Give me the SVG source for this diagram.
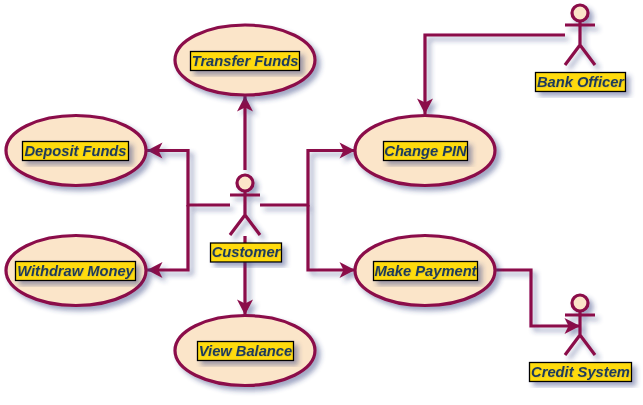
<svg xmlns="http://www.w3.org/2000/svg" width="643" height="405" viewBox="0 0 643 405">
<defs>
<filter id="sh" x="-20%" y="-20%" width="150%" height="150%"><feDropShadow dx="4" dy="4" stdDeviation="2.500" flood-color="#2c3e7a" flood-opacity="0.45"/></filter>
<filter id="ts" x="-5%" y="-20%" width="110%" height="140%"><feDropShadow dx="0.500" dy="0.500" stdDeviation="0.400" flood-color="#5a6a8a" flood-opacity="0.3"/></filter>
<marker id="arr" viewBox="0 0 18 18" refX="16.500" refY="9" markerWidth="18" markerHeight="18" markerUnits="userSpaceOnUse" orient="auto"><path d="M1,1 L16.500,9 L1,17 L5,9 Z" fill="#8b0a4a"/></marker>
</defs>
<style>
.e{fill:#fbe5c9;stroke:#8b0a4a;stroke-width:3.200}
.l{fill:#ffdb0f;stroke:#000;stroke-width:1.300}
.t{font-family:"Liberation Sans",Arial,sans-serif;font-size:14.700px;font-weight:bold;font-style:italic;fill:#1e3a5a;text-anchor:middle}
.c{fill:none;stroke:#8b0a4a;stroke-width:3.200}
.a{fill:none;stroke:#8b0a4a;stroke-width:3.200}
.h{fill:#fbe5c9;stroke:#8b0a4a;stroke-width:3.200}
</style>
<rect width="643" height="405" fill="#fff"/>
<g id="connectors" filter="url(#sh)">
<path class="c" d="M245,170 V96" marker-end="url(#arr)"/>
<path class="c" d="M230,205 H188 V150.500 H147" marker-end="url(#arr)"/>
<path class="c" d="M188,205 V270 H147" marker-end="url(#arr)"/>
<path class="c" d="M245,236 V315" marker-end="url(#arr)"/>
<path class="c" d="M260,205 H308 V150.500 H355" marker-end="url(#arr)"/>
<path class="c" d="M308,205 V270 H355" marker-end="url(#arr)"/>
<path class="c" d="M565,35 H425 V114" marker-end="url(#arr)"/>
<path class="c" d="M496,270 H531 V326 H580" marker-end="url(#arr)"/>
</g>
<g id="transfer-funds"><ellipse class="e" cx="245" cy="60" rx="70" ry="35" filter="url(#sh)"/><rect class="l" x="190.500" y="51.500" width="109" height="19" filter="url(#sh)"/><text class="t" x="245" y="66" filter="url(#ts)">Transfer Funds</text></g>
<g id="deposit-funds"><ellipse class="e" cx="76" cy="150.500" rx="70" ry="35" filter="url(#sh)"/><rect class="l" x="22.500" y="141.500" width="106" height="19" filter="url(#sh)"/><text class="t" x="75.500" y="156" filter="url(#ts)">Deposit Funds</text></g>
<g id="withdraw-money"><ellipse class="e" cx="76" cy="270.500" rx="70" ry="35" filter="url(#sh)"/><rect class="l" x="15.500" y="261.500" width="120" height="19" filter="url(#sh)"/><text class="t" x="75.500" y="276" filter="url(#ts)">Withdraw Money</text></g>
<g id="view-balance"><ellipse class="e" cx="245" cy="350.500" rx="70" ry="35" filter="url(#sh)"/><rect class="l" x="197.500" y="341.500" width="96" height="19" filter="url(#sh)"/><text class="t" x="245.500" y="356" filter="url(#ts)">View Balance</text></g>
<g id="change-pin"><ellipse class="e" cx="425" cy="150.500" rx="70" ry="35" filter="url(#sh)"/><rect class="l" x="383.500" y="141.500" width="84" height="19" filter="url(#sh)"/><text class="t" x="425.500" y="156" filter="url(#ts)">Change PIN</text></g>
<g id="make-payment"><ellipse class="e" cx="425" cy="270.500" rx="70" ry="35" filter="url(#sh)"/><rect class="l" x="373.500" y="261.500" width="104" height="19" filter="url(#sh)"/><text class="t" x="425.500" y="276" filter="url(#ts)">Make Payment</text></g>
<g id="customer"><g filter="url(#sh)"><circle class="h" cx="245" cy="183" r="8"/><path class="a" d="M245,191 V215 M230,195 H260 M245,215 L230,235 M245,215 L260,235"/></g><rect class="l" x="210.500" y="243" width="71" height="19" filter="url(#sh)"/><text class="t" x="246" y="257" filter="url(#ts)">Customer</text></g>
<g id="bank-officer"><g filter="url(#sh)"><circle class="h" cx="580" cy="13" r="8"/><path class="a" d="M580,21 V45 M565,25 H595 M580,45 L565,65 M580,45 L595,65"/></g><rect class="l" x="535.500" y="72.500" width="90" height="19" filter="url(#sh)"/><text class="t" x="580.500" y="87" filter="url(#ts)">Bank Officer</text></g>
<g id="credit-system"><g filter="url(#sh)"><circle class="h" cx="580" cy="303" r="8"/><path class="a" d="M580,311 V335 M565,315 H595 M580,335 L565,355 M580,335 L595,355"/></g><rect class="l" x="529.500" y="362.500" width="102" height="19" filter="url(#sh)"/><text class="t" x="580.500" y="377" filter="url(#ts)">Credit System</text></g>
</svg>
